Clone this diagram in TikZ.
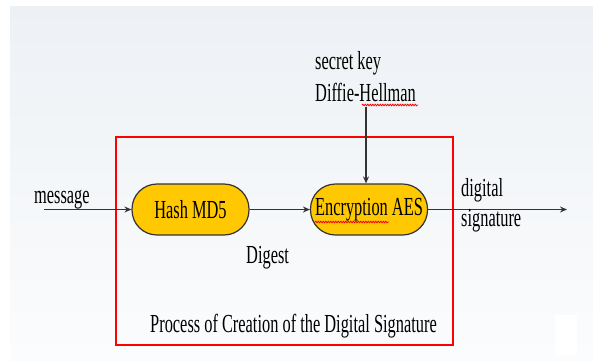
\documentclass[tikz,border=0pt]{standalone}
\usepackage{fontspec}
\setmainfont{Liberation Serif}[FakeStretch=0.63]
\usetikzlibrary{arrows.meta,decorations.pathmorphing}
\definecolor{bgtop}{HTML}{EDF1F5}
\definecolor{bgbot}{HTML}{FBFCFD}
\definecolor{gold}{HTML}{FFC800}
\definecolor{edge}{HTML}{333333}
\tikzset{
  procbox/.style={draw=edge, line width=1.2pt, fill=gold, rounded corners=25pt,
    minimum width=117pt, minimum height=51pt, inner sep=0pt, font=\fontsize{26}{28}\selectfont},
  lbl/.style={inner sep=0pt, anchor=base west, font=\fontsize{26}{28}\selectfont},
  conn/.style={draw=edge, line width=1.2pt, -{Stealth[length=7pt,width=6pt]}},
  spell/.style={draw=red, line width=0.8pt, decorate, decoration={snake, amplitude=0.8pt, segment length=2.5pt}}
}
\begin{document}
\begin{tikzpicture}[x=1pt,y=-1pt]
\useasboundingbox (0,0) rectangle (593,360);
\fill[white] (0,0) rectangle (593,360);
\shade[top color=bgtop, bottom color=bgbot] (10,6) rectangle (593,360);
\fill[white] (555,315) rectangle (577,355);
\draw[red, line width=2pt] (116,137) rectangle (453,345);
\node[procbox] (hash) at (190.5,209.5) {Hash MD5};
\node[procbox] (aes) at (369,209.5) {Encryption AES};
\coordinate (msg) at (44,209.5);
\coordinate (out) at (567,209.5);
\coordinate (keytop) at (366,107);
\draw[conn] (msg) -- (hash.west);
\draw[conn] (hash.east) -- (aes.west);
\draw[conn] (aes.east) -- (out);
\draw[conn] (keytop) -- (keytop |- aes.north);
\node[lbl] (tmsg) at (34,203) {message};
\node[lbl] (tsk) at (315,69) {secret key};
\node[lbl] (tdh) at (315,101) {Diffie-Hellman};
\node[lbl] (tdig) at (461,196) {digital};
\node[lbl] (tsig) at (461,226) {signature};
\node[lbl] (tdgst) at (246,263) {Digest};
\node[lbl] (tproc) at (150,332) {Process of Creation of the Digital Signature};
\draw[spell] (362,105) -- (418,105);
\draw[spell] (315,222) -- (389,222);
\end{tikzpicture}
\end{document}
